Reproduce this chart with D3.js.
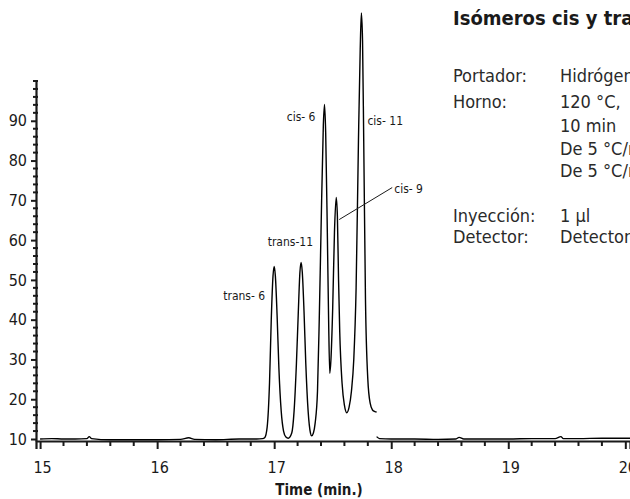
<!DOCTYPE html>
<html>
<head>
<meta charset="utf-8">
<script src="https://cdn.jsdelivr.net/npm/d3@7/dist/d3.min.js"></script>
<style>
  html, body { margin: 0; padding: 0; background: #fff; overflow: hidden; }
  svg { display: block; }
  .narrow { font-family: "DejaVu Sans Condensed", "DejaVu Sans", sans-serif; font-stretch: condensed; }
  .cond { font-family: "DejaVu Sans Condensed", "DejaVu Sans", sans-serif; font-stretch: condensed; }
</style>
</head>
<body>
<script>
// ---- data ----
// detector trace, first segment (time in min, response)
const traceTimesA = [15.0,15.1,15.2,15.3,15.4,15.42,15.44,15.6,15.8,16.0,16.2,16.27,16.32,16.5,16.7,16.85,16.9,
  16.92,16.94,16.96,16.975,16.99,17.0,17.01,17.025,17.04,17.06,17.08,17.10,17.12,
  17.15,17.17,17.19,17.205,17.22,17.23,17.24,17.255,17.27,17.29,17.31,17.32,17.335,
  17.35,17.37,17.385,17.40,17.42,17.43,17.44,17.455,17.465,17.475,
  17.485,17.50,17.515,17.53,17.54,17.55,17.56,17.58,17.60,17.62,
  17.64,17.66,17.68,17.70,17.72,17.735,17.745,17.755,17.765,17.78,17.80,17.82,17.84,17.86,17.875];
const traceValuesA = [10.0,10.1,10.0,10.0,10.1,10.6,10.1,9.8,9.8,9.8,9.9,10.3,9.9,9.8,10.0,10.0,10.1,
  10.4,13,24,40,51,53.4,51,41,28,17,12,10.5,10.2,
  11.5,17,29,41,52,54.4,52,42,29,17,11.5,10.8,11.5,
  14,22,40,62,89,94.1,87,60,40,26.5,
  30,43,62,70.7,66,50,37,24,18.5,16.6,
  18,22,30,48,85,108,117.1,110,85,45,25,19,17.3,16.9,16.8];
// detector trace, second segment
const traceTimesB = [17.875,17.9,18.0,18.2,18.4,18.55,18.58,18.62,18.8,19.0,19.2,19.4,19.45,19.47,19.6,19.8,20.0,20.04];
const traceValuesB = [10.6,10.1,10.0,10.0,9.9,10.0,10.4,10.0,10.0,10.0,10.1,10.1,10.6,10.1,10.1,10.2,10.2,10.2];

// peak labels
const peakNames = ["trans- 6","trans-11","cis- 6","cis- 9","cis- 11"];
const peakTimes = [17.0, 17.23, 17.43, 17.53, 17.745];
const peakValues = [53.4, 54.4, 94.1, 70.7, 117.1];

// axis ticks
const xTicks = [15,16,17,18,19,20];
const yTicks = [10,20,30,40,50,60,70,80,90];

// side text
const infoTitle = "Isómeros cis y trans";
const infoLabels = ["Portador:","Horno:","","","","Inyección:","Detector:"];
const infoValues = ["Hidrógeno","120 °C,","10 min","De 5 °C/min","De 5 °C/min","1 µl","Detector FID"];

// ---- drawing ----
const W = 630, H = 499;
const svg = d3.select("body").append("svg").attr("width", W).attr("height", H);

const x = d3.scaleLinear().domain([14.965, 20.04]).range([36, 630]);
const y = d3.scaleLinear().domain([9.5, 100]).range([441, 81]);
const ink = "#1a1a1a";

// x axis
const xMinor = d3.range(15, 20.05, 0.2).map(v => +v.toFixed(1)).filter(v => !xTicks.includes(v));
const gx = svg.append("g").attr("transform", `translate(0,${y(9.5)})`);
gx.call(d3.axisBottom(x).tickValues(xTicks).tickSize(8).tickPadding(13).tickFormat(d3.format("d")));
gx.selectAll(".tick line").attr("stroke", ink).attr("stroke-width", 2);
gx.select(".domain").attr("stroke", ink).attr("stroke-width", 2.2);
gx.selectAll(".tick text").attr("class", "cond").attr("font-size", 16).attr("fill", ink).attr("dx", 2);
gx.selectAll(".minor").data(xMinor).enter().append("line")
  .attr("x1", d => x(d)).attr("x2", d => x(d)).attr("y1", 0).attr("y2", 5)
  .attr("stroke", ink).attr("stroke-width", 2);

// y axis
const yMinor = d3.range(10, 100.1, 2).filter(v => !yTicks.includes(v));
const gy = svg.append("g").attr("transform", `translate(${x(14.965)},0)`);
gy.call(d3.axisLeft(y).tickValues(yTicks).tickSize(5).tickPadding(4).tickSizeOuter(0).tickFormat(d3.format("d")));
gy.selectAll(".tick line").attr("stroke", ink).attr("stroke-width", 2);
gy.select(".domain").attr("stroke", ink).attr("stroke-width", 2.2);
gy.selectAll(".tick text").attr("class", "cond").attr("font-size", 16).attr("fill", ink);
gy.selectAll(".minor").data(yMinor).enter().append("line")
  .attr("x1", -3).attr("x2", 2).attr("y1", d => y(d)).attr("y2", d => y(d))
  .attr("stroke", ink).attr("stroke-width", 2);

// axis title
svg.append("text").attr("class", "cond").attr("x", 319).attr("y", 495)
  .attr("text-anchor", "middle").attr("font-size", 15).attr("font-weight", "bold").attr("fill", ink)
  .text("Time (min.)");

// trace
const line = d3.line().x(d => x(d[0])).y(d => y(d[1])).curve(d3.curveMonotoneX);
const segA = traceTimesA.map((t, i) => [t, traceValuesA[i]]);
const segB = traceTimesB.map((t, i) => [t, traceValuesB[i]]);
[segA, segB].forEach(seg => {
  svg.append("path").datum(seg).attr("d", line)
    .attr("fill", "none").attr("stroke", "#000").attr("stroke-width", 1.4).attr("stroke-linejoin", "round");
});

// peak labels (pixel offsets from each peak apex)
const labelOffsets = [
  {dx: -9, dy: 34, anchor: "end"},
  {dx: 12, dy: -16, anchor: "end"},
  {dx: -9, dy: 17, anchor: "end"},
  {dx: 58, dy: -5, anchor: "start"},
  {dx: 6, dy: 112, anchor: "start"}
];
peakNames.forEach((name, i) => {
  const o = labelOffsets[i];
  svg.append("text").attr("class", "narrow")
    .attr("x", x(peakTimes[i]) + o.dx).attr("y", y(peakValues[i]) + o.dy)
    .attr("text-anchor", o.anchor).attr("font-size", 12).attr("fill", ink).text(name);
});
// leader line for cis- 9
svg.append("line")
  .attr("x1", x(peakTimes[3]) + 3).attr("y1", y(peakValues[3]) + 22)
  .attr("x2", x(peakTimes[3]) + 56).attr("y2", y(peakValues[3]) - 10)
  .attr("stroke", ink).attr("stroke-width", 1);

// side information block
svg.append("text").attr("class", "narrow").attr("x", 453).attr("y", 25)
  .attr("font-size", 20).attr("font-weight", "bold").attr("fill", ink).text(infoTitle);
const rowY = [82, 108, 132, 155, 177, 222, 243];
infoLabels.forEach((lab, i) => {
  if (lab) svg.append("text").attr("class", "narrow").attr("x", 453).attr("y", rowY[i])
    .attr("font-size", 18).attr("fill", "#2a2a2a").text(lab);
  svg.append("text").attr("class", "narrow").attr("x", 560).attr("y", rowY[i])
    .attr("font-size", 18).attr("fill", "#2a2a2a").text(infoValues[i]);
});
</script>
</body>
</html>
